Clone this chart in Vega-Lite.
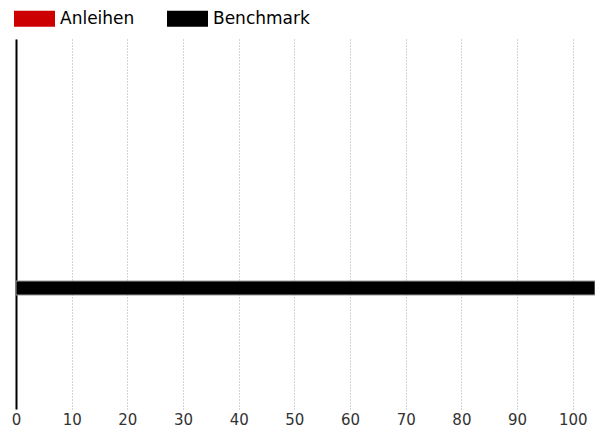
{
  "$schema": "https://vega.github.io/schema/vega-lite/v6.json",
  "width": 579,
  "height": 370,
  "autosize": {"type": "none"},
  "padding": {"left": 16, "top": 39, "right": 0, "bottom": 21},
  "background": "white",
  "config": {
    "view": {"stroke": null},
    "font": "DejaVu Sans"
  },
  "data": {
    "values": [
      {"serie": "Anleihen", "wert": 0},
      {"serie": "Benchmark", "wert": 104}
    ]
  },
  "mark": {"type": "bar", "size": 14, "stroke": "#999999", "strokeWidth": 1, "clip": true},
  "encoding": {
    "y": {
      "field": "serie",
      "type": "nominal",
      "sort": ["Anleihen", "Benchmark"],
      "scale": {"paddingInner": 0, "paddingOuter": 0.445},
      "axis": {"title": null, "labels": false, "ticks": false, "domain": true, "domainColor": "#000000", "domainWidth": 2, "grid": false}
    },
    "x": {
      "field": "wert",
      "type": "quantitative",
      "scale": {"domain": [0, 104], "nice": false, "zero": true},
      "axis": {
        "title": null,
        "values": [0, 10, 20, 30, 40, 50, 60, 70, 80, 90, 100],
        "domain": false,
        "ticks": false,
        "grid": true,
        "gridColor": "#aaaaaa",
        "gridDash": [1, 2],
        "gridWidth": 1,
        "labelFont": "DejaVu Sans",
        "labelFontSize": 15,
        "labelColor": "#333333",
        "labelPadding": 3,
        "labelFlush": false
      }
    },
    "strokeOpacity": {
      "condition": {"test": "datum.wert > 0", "value": 1},
      "value": 0
    },
    "color": {
      "field": "serie",
      "type": "nominal",
      "scale": {"domain": ["Anleihen", "Benchmark"], "range": ["#cc0000", "#000000"]},
      "legend": {
        "title": null,
        "orient": "none",
        "legendX": -2,
        "legendY": -41,
        "direction": "horizontal",
        "padding": 0,
        "symbolType": "M-1,-0.39H1V0.39H-1Z",
        "symbolSize": 1681,
        "symbolStrokeWidth": 0,
        "symbolOpacity": 1,
        "labelOffset": 5,
        "labelFont": "DejaVu Sans",
        "labelFontSize": 17,
        "labelColor": "#000000",
        "columnPadding": 32
      }
    }
  }
}
